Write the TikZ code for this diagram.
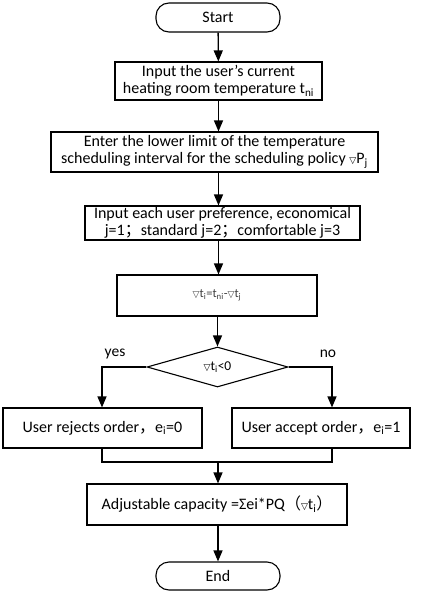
\documentclass[tikz,border=0pt]{standalone}
\usepackage{fontspec}
\setmainfont{Carlito}
\newfontfamily\cjk{Noto Sans CJK SC}
\newfontfamily\dv{DejaVu Sans}
\usetikzlibrary{arrows.meta,shapes.geometric}
\newcommand{\tri}{{\dv\fontsize{9}{9}\selectfont ▽}}
\newcommand{\subs}[1]{\textsubscript{#1}}
\tikzset{
  box/.style={draw, line width=1.1pt, inner sep=1pt, align=center, font=\fontsize{16}{17}\selectfont},
  term/.style={box, rounded corners=13pt},
  arr/.style={line width=1.3pt, -{Triangle[width=9pt,length=11pt]}},
  ln/.style={line width=1.3pt},
  lbl/.style={font=\fontsize{15.5}{16}\selectfont}
}
\begin{document}
\begin{tikzpicture}[x=1pt,y=-1pt]
\useasboundingbox (0,0) rectangle (436,594);
\node[term, minimum width=124pt, minimum height=29pt] (start) at (218,17.5) {Start};
\node[box, minimum width=207pt, minimum height=38pt] (b1) at (218.5,81) {Input the user's current\\heating room temperature t\subs{ni}};
\node[box, minimum width=327pt, minimum height=40pt] (b2) at (214.5,152) {Enter the lower limit of the temperature\\scheduling interval for the scheduling policy \tri P\subs{j}};
\node[box, minimum width=275pt, minimum height=34pt] (b3) at (222.5,223) {Input each user preference, economical\\j=1{\cjk ；}standard j=2{\cjk ；}comfortable j=3};
\node[box, minimum width=200pt, minimum height=41pt, font=\fontsize{12.5}{13}\selectfont, text=black!75] (b4) at (217,295.5) {\tri t\subs{i}=t\subs{ni}-\tri t\subs{j}};
\node[draw, line width=1.1pt, diamond, aspect=3.5, inner sep=0pt, minimum width=141pt, minimum height=40pt, font=\fontsize{13.5}{14}\selectfont] (d) at (217.5,367) {\tri t\subs{i}<0};
\node[box, minimum width=199pt, minimum height=40pt] (b5) at (102.5,428) {User rejects order{\cjk ，}e\subs{i}=0};
\node[box, minimum width=178pt, minimum height=40pt] (b6) at (321,428) {User accept order{\cjk ，}e\subs{i}=1};
\node[box, minimum width=260pt, minimum height=41pt] (b7) at (217,504.5) {Adjustable capacity =Σei*PQ{\cjk （}\tri t\subs{i}{\cjk ）}};
\node[term, minimum width=124pt, minimum height=28pt] (end) at (218,576) {End};
\node[lbl] (yes) at (115,354) {yes};
\node[lbl] (no) at (328,354) {no};
\coordinate (lx) at (102,0);
\coordinate (rx) at (332,0);
\coordinate (mj) at (218,462);
\draw[arr] (start) -- (b1);
\draw[arr] (b1) -- (b2.north -| b1);
\draw[arr] (b2.south -| b1) -- (b3.north -| b1);
\draw[arr] (b3.south -| b1) -- (b4.north -| b1);
\draw[arr] (b4.south -| d) -- (d);
\draw[arr] (d.west) -| (b5.north -| lx);
\draw[arr] (d.east) -| (b6.north -| rx);
\draw[ln] (b5.south -| lx) |- (mj) -| (b6.south -| rx);
\draw[arr] (mj) -- (b7.north -| mj);
\draw[arr] (b7.south -| start) -- (end);
\end{tikzpicture}
\end{document}
